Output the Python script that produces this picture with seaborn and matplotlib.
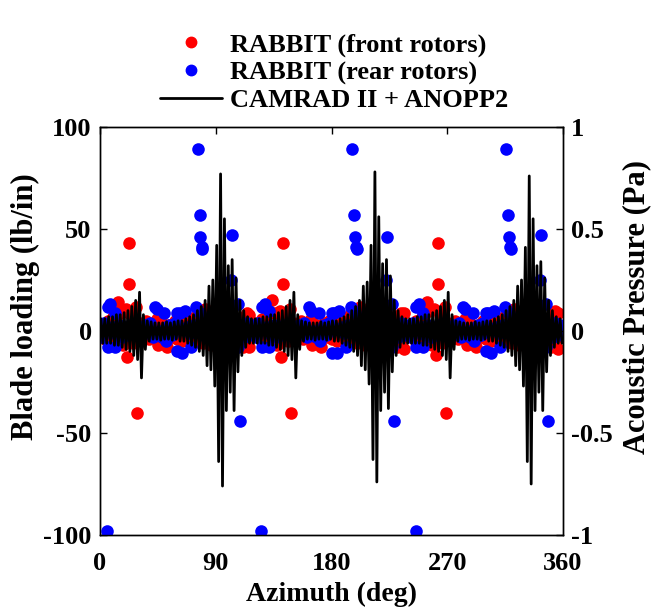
import numpy as np
import pandas as pd
import matplotlib
matplotlib.use("Agg")
import matplotlib.pyplot as plt
import seaborn as sns
from matplotlib.lines import Line2D

# ---------------- data ----------------
# RABBIT front rotors: azimuth (deg) and blade loading (lb/in)
front_az = [0, 2, 4, 6, 8, 10, 12, 14, 16, 18, 20, 21, 22.5, 22.5, 24, 26, 28, 28.7, 30, 32,
            34, 36, 38, 40, 42, 44, 45, 48, 50, 52, 54, 56, 58, 60, 62, 64, 66, 68, 70, 72,
            74, 76, 78, 80, 82, 84, 86, 88, 90, 92, 94, 96, 98, 100, 102, 104, 106, 108, 110, 111,
            112, 114, 116, 116, 118,
            120, 122, 124, 126, 128, 130, 132, 134, 136, 138, 140, 141, 142.5, 142.5, 144, 146, 148, 148.7, 150, 152,
            154, 156, 158, 160, 162, 164, 165, 168, 170, 172, 174, 176, 178, 180, 182, 184, 186, 188, 190, 192,
            194, 196, 198, 200, 202, 204, 206, 208, 210, 212, 214, 216, 218, 220, 222, 224, 226, 228, 230, 231,
            232, 234, 236, 236, 238,
            240, 242, 244, 246, 248, 250, 252, 254, 256, 258, 260, 261, 262.5, 262.5, 264, 266, 268, 268.7, 270, 272,
            274, 276, 278, 280, 282, 284, 285, 288, 290, 292, 294, 296, 298, 300, 302, 304, 306, 308, 310, 312,
            314, 316, 318, 320, 322, 324, 326, 328, 330, 332, 334, 336, 338, 340, 342, 344, 346, 348, 350, 351,
            352, 354, 356, 356, 358]
front_load = [-2, 3, -4, 5, -3, 7, -6, 14, 9, -7, 11, -12.5, 43, 23, 8, -6, 12, -40, 4, -3,
              2, 5, -4, 3, -2, 6, -7, 4, -5, -8, 3, -3, 5, -4, 4, -5, 6, -4, 5, -6,
              7, -5, 8, -6, 11, 10, -7, 6, -5, 4, -4, 5, -6, 3, -4, 4, -5, 6, -6, -8,
              7, 9, 8, -8, -3,
              -2, 4, -3, 6, -4, 8, -6, 15, 9, -7, 10, -12.5, 43, 23, 7, -5, 11, -40, 4, -3,
              3, 5, -4, 2, -3, 6, -7, 3, -5, -8, 4, -3, 5, -4, 3, -5, 6, -4, 5, -6,
              8, -5, 7, -6, 12, 10, -7, 5, -5, 4, -4, 6, -6, 3, -4, 4, -5, 7, -6, -8,
              6, 9, 9, -9, -3,
              -2, 3, -4, 5, -3, 7, -6, 14, 10, -7, 11, -12, 43, 23, 8, -6, 12, -40, 4, -3,
              2, 5, -4, 3, -2, 6, -7, 4, -5, -8, 3, -3, 5, -4, 4, -5, 6, -4, 5, -6,
              7, -5, 8, -6, 11, 10, -7, 6, -5, 4, -4, 5, -6, 3, -4, 4, -5, 6, -6, -8,
              7, 10, 9, -9, -3]

# RABBIT rear rotors
rear_az = [0, 1.5, 3, 5.5, 6, 6, 8, 10, 11.5, 11.5, 13, 15, 17, 19, 21, 23, 25, 27, 29, 31,
           33, 35, 37, 39, 41, 42.6, 44, 46, 48, 50, 51, 52, 54, 56, 58, 60, 60, 62, 64, 66,
           68, 70, 71, 73, 75, 76, 77.6, 78, 79, 79.5, 78, 80, 82, 84, 86, 88, 90, 92, 94, 96,
           98, 100, 102, 103, 104, 106, 107, 107, 108.6, 110, 112, 114, 116, 118,
           120, 121.5, 123, 125.5, 126, 126, 128, 130, 131.5, 131.5, 133, 135, 137, 139, 141, 143, 145, 147, 149, 151,
           153, 155, 157, 159, 161, 162.6, 164, 166, 168, 170, 171, 172, 174, 176, 178, 180, 180, 182, 184, 186,
           188, 190, 191, 193, 195, 196, 197.6, 198, 199, 199.5, 198, 200, 202, 204, 206, 208, 210, 212, 214, 216,
           218, 220, 222, 223, 224, 226, 227, 227, 228.6, 230, 232, 234, 236, 238,
           240, 241.5, 243, 245.5, 246, 246, 248, 250, 251.5, 251.5, 253, 255, 257, 259, 261, 263, 265, 267, 269, 271,
           273, 275, 277, 279, 281, 282.6, 284, 286, 288, 290, 291, 292, 294, 296, 298, 300, 300, 302, 304, 306,
           308, 310, 311, 313, 315, 316, 317.6, 318, 319, 319.5, 318, 320, 322, 324, 326, 328, 330, 332, 334, 336,
           338, 340, 342, 343, 344, 346, 347, 347, 348.6, 350, 352, 354, 356, 358]
rear_load = [1, -3, 4, -98, 12, -8, 13, 2, 9, -8, -2, 3, -3, 2, -2, 3, -1, 2, 0, 1,
             -2, 3, 2, 4, -3, 12, 11, 0, -3, 9, -5, -1, 3, -2, 4, 9, -10, 9, -11, 10,
             2, -1, -8, 3, 12, 89, 57, 46, 41, 40, 9, -2, 3, -3, 4, -4, 3, -3, 2, -4,
             5, -3, 25, 47, 2, -5, 13, -8, -44, 3, -3, 4, -2, 3,
             1, -3, 4, -98, 12, -8, 13, 2, 10, -8, -2, 3, -3, 2, -2, 3, -1, 2, 0, 1,
             -2, 3, 2, 4, -3, 12, 10, 0, -3, 9, -5, -1, 3, -2, 4, 9, -11, 9, -11, 10,
             2, -1, -8, 3, 12, 89, 57, 46, 41, 40, 9, -2, 3, -3, 4, -4, 3, -3, 2, -4,
             5, -3, 25, 46, 2, -5, 13, -8, -44, 3, -3, 4, -2, 3,
             1, -3, 4, -98, 12, -8, 13, 2, 9, -8, -2, 3, -3, 2, -2, 3, -1, 2, 0, 1,
             -2, 3, 2, 4, -3, 12, 11, 0, -3, 9, -5, -1, 3, -2, 4, 9, -10, 9, -11, 10,
             2, -1, -8, 3, 12, 89, 57, 46, 41, 40, 9, -2, 3, -3, 4, -4, 3, -3, 2, -4,
             5, -3, 25, 47, 2, -5, 13, -8, -44, 3, -3, 4, -2, 3]

# CAMRAD II + ANOPP2 acoustic pressure (Pa): successive maxima / minima of each cycle
pressure_peaks = [0.06, 0.06, 0.07, 0.07, 0.08, 0.08, 0.09, 0.10, 0.12, 0.15,
                  0.19, 0.08, 0.05, 0.045, 0.04, 0.04, 0.04, 0.045, 0.04, 0.045,
                  0.05, 0.05, 0.06, 0.07, 0.08, 0.10, 0.12, 0.15, 0.22, 0.25,
                  0.42, 0.77, 0.55, 0.32, 0.35, 0.26, 0.15, 0.10, 0.07, 0.06,
                  0.06, 0.06, 0.07, 0.07, 0.08, 0.08, 0.09, 0.10, 0.12, 0.15,
                  0.19, 0.08, 0.05, 0.045, 0.04, 0.04, 0.04, 0.045, 0.04, 0.045,
                  0.05, 0.05, 0.06, 0.07, 0.08, 0.10, 0.12, 0.15, 0.22, 0.24,
                  0.42, 0.78, 0.56, 0.33, 0.35, 0.27, 0.15, 0.10, 0.07, 0.06,
                  0.06, 0.06, 0.07, 0.07, 0.08, 0.08, 0.09, 0.10, 0.12, 0.15,
                  0.19, 0.08, 0.05, 0.045, 0.04, 0.04, 0.04, 0.045, 0.04, 0.045,
                  0.05, 0.05, 0.06, 0.07, 0.08, 0.10, 0.12, 0.15, 0.22, 0.25,
                  0.41, 0.76, 0.55, 0.32, 0.34, 0.26, 0.15, 0.10, 0.07, 0.06]
pressure_troughs = [-0.06, -0.06, -0.06, -0.07, -0.07, -0.08, -0.09, -0.10, -0.12, -0.14,
                    -0.23, -0.09, -0.05, -0.04, -0.04, -0.045, -0.04, -0.04, -0.045, -0.04,
                    -0.05, -0.05, -0.06, -0.07, -0.08, -0.10, -0.12, -0.17, -0.19, -0.27,
                    -0.64, -0.76, -0.39, -0.30, -0.39, -0.20, -0.12, -0.08, -0.06, -0.06,
                    -0.06, -0.06, -0.06, -0.07, -0.07, -0.08, -0.09, -0.10, -0.12, -0.14,
                    -0.23, -0.09, -0.05, -0.04, -0.04, -0.045, -0.04, -0.04, -0.045, -0.04,
                    -0.05, -0.05, -0.06, -0.07, -0.08, -0.10, -0.12, -0.17, -0.19, -0.26,
                    -0.63, -0.74, -0.39, -0.30, -0.38, -0.20, -0.12, -0.08, -0.06, -0.06,
                    -0.06, -0.06, -0.06, -0.07, -0.07, -0.08, -0.09, -0.10, -0.12, -0.14,
                    -0.23, -0.09, -0.05, -0.04, -0.04, -0.045, -0.04, -0.04, -0.045, -0.04,
                    -0.05, -0.05, -0.06, -0.07, -0.08, -0.10, -0.12, -0.17, -0.19, -0.27,
                    -0.64, -0.75, -0.39, -0.30, -0.39, -0.20, -0.12, -0.08, -0.06, -0.06]
cycle_start_az = np.arange(0, 360, 3.0)   # start azimuth of each oscillation cycle

x_ticks = [0, 90, 180, 270, 360]
left_ticks = [-100, -50, 0, 50, 100]
right_ticks = [-1, -0.5, 0, 0.5, 1]
right_tick_labels = ["-1", "-0.5", "0", "0.5", "1"]

# ---------------- build tables ----------------
front_df = pd.DataFrame({"Azimuth": front_az, "Loading": front_load})
rear_df = pd.DataFrame({"Azimuth": rear_az, "Loading": rear_load})
p_az = np.empty(2 * len(cycle_start_az))
p_val = np.empty(2 * len(cycle_start_az))
p_az[0::2] = cycle_start_az + 0.75
p_az[1::2] = cycle_start_az + 2.25
p_val[0::2] = pressure_peaks
p_val[1::2] = pressure_troughs
line_df = pd.DataFrame({"Azimuth": p_az, "Pressure": p_val})

# ---------------- style ----------------
sns.set_theme(style="white")
plt.rcParams["font.family"] = ["Liberation Serif", "DejaVu Serif"]
plt.rcParams["font.weight"] = "bold"
plt.rcParams["axes.labelweight"] = "bold"
plt.rcParams["axes.unicode_minus"] = False
for key in ["text.color", "axes.labelcolor", "xtick.color", "ytick.color", "axes.edgecolor"]:
    plt.rcParams[key] = "black"

fig = plt.figure(figsize=(6.52, 6.13), dpi=100)
ax = fig.add_axes([100 / 652, (613 - 535) / 613, 463 / 652, 408 / 613])

marker_size = 82
sns.scatterplot(data=front_df, x="Azimuth", y="Loading", ax=ax, color="#ff0000",
                s=marker_size, linewidth=0, zorder=2, legend=False)
sns.scatterplot(data=rear_df, x="Azimuth", y="Loading", ax=ax, color="#0000ff",
                s=marker_size, linewidth=0, zorder=3, legend=False)

ax2 = ax.twinx()
sns.lineplot(data=line_df, x="Azimuth", y="Pressure", ax=ax2, color="black",
             linewidth=2.0, estimator=None, sort=False, legend=False)

ax.set_xlim(0, 360)
ax.set_ylim(-100, 100)
ax2.set_ylim(-1, 1)
ax.set_xticks(x_ticks)
ax.set_yticks(left_ticks)
ax2.set_yticks(right_ticks)
ax2.set_yticklabels(right_tick_labels)

tick_fs = 19
ax.tick_params(axis="x", direction="in", length=5, width=1, labelsize=tick_fs,
               top=True, colors="black", pad=12)
ax.tick_params(axis="y", direction="in", length=5, width=1, labelsize=tick_fs,
               right=False, colors="black", pad=6)
ax2.tick_params(axis="y", direction="in", length=5, width=1, labelsize=tick_fs,
                colors="black", pad=6)
for a in (ax, ax2):
    for lbl in a.get_xticklabels() + a.get_yticklabels():
        lbl.set_fontweight("bold")
    for sp in a.spines.values():
        sp.set_color("black")
        sp.set_linewidth(1.0)

ax.set_xlabel("Azimuth (deg)", fontsize=20, fontweight="bold", labelpad=5)
ax.set_ylabel("Blade loading (lb/in)", fontsize=22, fontweight="bold")
ax2.set_ylabel("Acoustic Pressure (Pa)", fontsize=22, fontweight="bold")
ax.yaxis.set_label_coords((40 - 100) / 463, 0.56)
ax2.yaxis.set_label_coords((622 - 100) / 463, 0.56)

handles = [
    Line2D([], [], marker="o", color="#ff0000", linestyle="none", markersize=7.5),
    Line2D([], [], marker="o", color="#0000ff", linestyle="none", markersize=7.5),
    Line2D([], [], color="black", linewidth=2.0),
]
labels = ["RABBIT (front rotors)", "RABBIT (rear rotors)", "CAMRAD II + ANOPP2"]
fig.legend(handles, labels, loc="upper left", bbox_to_anchor=(160 / 652, 1 - 33 / 613),
           frameon=False, prop={"family": ["Liberation Serif"], "weight": "bold", "size": 19},
           handlelength=2.35, handletextpad=0.3, labelspacing=0.15, borderpad=0,
           borderaxespad=0)

fig.savefig("out.png", dpi=100)
